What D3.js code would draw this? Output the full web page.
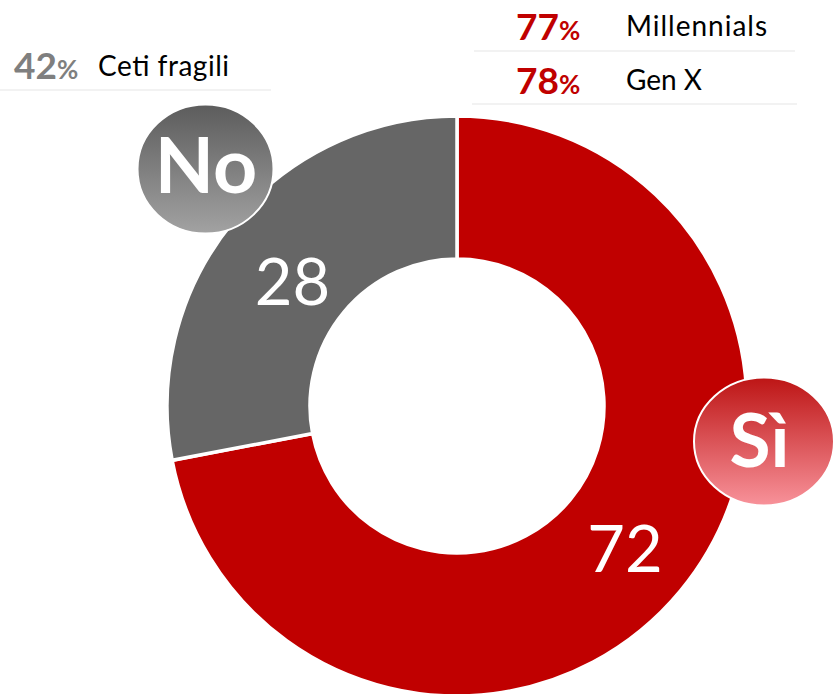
<!DOCTYPE html>
<html>
<head>
<meta charset="utf-8">
<script src="https://cdn.jsdelivr.net/npm/d3@7"></script>
<style>
  html, body { margin: 0; padding: 0; background: #fff; overflow: hidden; }
  svg { display: block; }
  text { font-family: Lato, "Open Sans", sans-serif; }
</style>
</head>
<body>
<div id="chart"></div>
<script>
const answers = ["Sì", "No"];
const shares = [72, 28];
const sliceColors = ["#c00000", "#666666"];
const badgeStops = [["#bd1515", "#f8929a"], ["#5c5c5c", "#a2a2a2"]];

const noteValues = [42, 77, 78];
const noteLabels = ["Ceti fragili", "Millennials", "Gen X"];
const noteColors = ["#7f7f7f", "#c00000", "#c00000"];

const width = 833, height = 694;
const cx = 457, cy = 406;

const svg = d3.select("#chart").append("svg")
  .attr("width", width)
  .attr("height", height);

const pie = d3.pie().sort(null)(shares);
const arc = d3.arc().innerRadius(147).outerRadius(290);

const donut = svg.append("g").attr("transform", `translate(${cx},${cy})`);

donut.selectAll("path")
  .data(pie)
  .enter().append("path")
  .attr("d", arc)
  .attr("fill", (d, i) => sliceColors[i])
  .attr("stroke", "#fff")
  .attr("stroke-width", 3.5);

// value labels sit a bit off the ring centre
const valuePos = [[625, 572], [292.5, 305]];
svg.selectAll("text.value")
  .data(shares)
  .enter().append("text")
  .attr("class", "value")
  .attr("x", (d, i) => valuePos[i][0])
  .attr("y", (d, i) => valuePos[i][1])
  .attr("text-anchor", "middle")
  .attr("fill", "#fff")
  .attr("font-size", 65)
  .text(d => d);

const defs = svg.append("defs");
badgeStops.forEach((s, i) => {
  const g = defs.append("linearGradient")
    .attr("id", "badge" + i)
    .attr("x1", 0).attr("y1", 0).attr("x2", 0).attr("y2", 1);
  g.append("stop").attr("offset", "0%").attr("stop-color", s[0]);
  g.append("stop").attr("offset", "100%").attr("stop-color", s[1]);
});

const badgePos = [[764, 441.5, 70, 64], [205.5, 169, 68, 64.5]];
const badgeText = [[759.5, 467, 75], [206, 193, 77]];
const badges = svg.selectAll("g.badge")
  .data(answers)
  .enter().append("g")
  .attr("class", "badge");

badges.append("ellipse")
  .attr("cx", (d, i) => badgePos[i][0])
  .attr("cy", (d, i) => badgePos[i][1])
  .attr("rx", (d, i) => badgePos[i][2])
  .attr("ry", (d, i) => badgePos[i][3])
  .attr("fill", (d, i) => `url(#badge${i})`)
  .attr("stroke", "#fff")
  .attr("stroke-width", 2);

badges.append("text")
  .attr("x", (d, i) => badgeText[i][0])
  .attr("y", (d, i) => badgeText[i][1])
  .attr("text-anchor", "middle")
  .attr("fill", "#fff")
  .attr("font-weight", 700)
  .attr("font-size", (d, i) => badgeText[i][2])
  .text(d => d);

const noteRows = [
  { num: 14, label: 98, base: 79, labelBase: 76, labelW: 131, x1: 0, x2: 271, rule: 90 },
  { num: 516, label: 626, base: 40, labelBase: 36, labelW: 141, x1: 474, x2: 795, rule: 51 },
  { num: 516, label: 626, base: 94, labelBase: 90, labelW: 76, x1: 472, x2: 797, rule: 104 }
];

const notes = svg.selectAll("g.note")
  .data(noteValues)
  .enter().append("g")
  .attr("class", "note");

notes.append("line")
  .attr("x1", (d, i) => noteRows[i].x1)
  .attr("x2", (d, i) => noteRows[i].x2)
  .attr("y1", (d, i) => noteRows[i].rule)
  .attr("y2", (d, i) => noteRows[i].rule)
  .attr("stroke", "#f2f2f2")
  .attr("stroke-width", 2);

const num = notes.append("text")
  .attr("x", (d, i) => noteRows[i].num)
  .attr("y", (d, i) => noteRows[i].base)
  .attr("fill", (d, i) => noteColors[i])
  .attr("font-weight", 700)
  .attr("font-size", 37)
  .text(d => d);

num.append("tspan")
  .attr("font-size", 26)
  .text("%");

notes.append("text")
  .attr("x", (d, i) => noteRows[i].label)
  .attr("y", (d, i) => noteRows[i].labelBase)
  .attr("textLength", (d, i) => noteRows[i].labelW)
  .attr("lengthAdjust", "spacing")
  .attr("fill", "#000")
  .attr("font-size", 28)
  .text((d, i) => noteLabels[i]);
</script>
</body>
</html>
